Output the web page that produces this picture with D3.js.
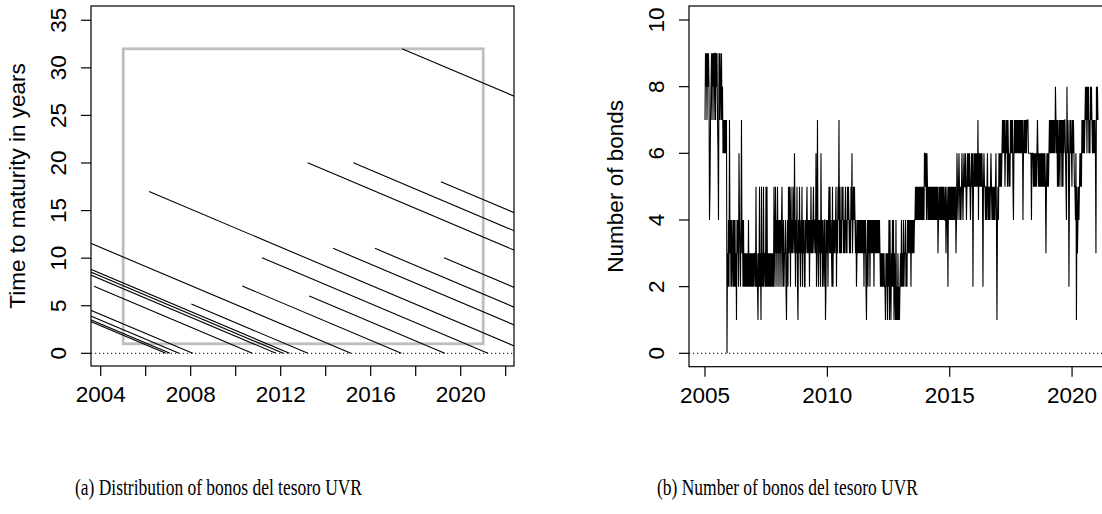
<!DOCTYPE html>
<html>
<head>
<meta charset="utf-8">
<script src="https://cdn.jsdelivr.net/npm/d3@7"></script>
<style>
  body { margin: 0; background: #fff; }
  svg { display: block; }
  .tick-label, .axis-title { font-family: "Liberation Sans", Arial, Helvetica, sans-serif; font-size: 22.5px; fill: #000; }
  .caption { font-family: "Liberation Serif", "Times New Roman", serif; font-size: 24px; fill: #000; }
</style>
</head>
<body>
<div id="figure"></div>
<script>

// ---- data ----

// panel (a): each bond drawn from (issue, time to maturity) down to (maturity, 0)
var issueYears    = [2003.0, 2003.0, 2003.0, 2003.0, 2003.7, 2003.0, 2003.0, 2003.0, 2003.0,
                     2006.15, 2008.03, 2010.29, 2011.17, 2013.2, 2013.27, 2014.33, 2015.23,
                     2016.19, 2017.39, 2019.12, 2019.26];
var maturityYears = [2015.12, 2012.39, 2012.11, 2011.79, 2010.74, 2008.09, 2007.48, 2007.08, 2006.89,
                     2023.15, 2013.21, 2017.36, 2021.21, 2033.22, 2019.29, 2025.36, 2035.25,
                     2027.22, 2049.4, 2037.15, 2029.3];
var windowYears    = [2005, 2021];
var windowMaturity = [1, 32];
var maturityTicks  = [0, 5, 10, 15, 20, 25, 30, 35];
var yearTicksA     = [2004, 2006, 2008, 2010, 2012, 2014, 2016, 2018, 2020, 2022];
var yearLabelsA    = [2004, 2008, 2012, 2016, 2020];

// panel (b): number of bonds, one digit per observation
var countStart = 2005.0;
var countStep  = 0.02043;   // years between observations
var countDigits =
  "79897989845789798979" + "97989764979879786767" + "67670324273424234242" + "42314342643247342423" +
  "23232324232323232323" + "32523213252315232523" + "32525232323232323253" + "25342534243424532423" +
  "34213425354253435436" + "42435214353243524342" + "24345343424353434534" + "43624732434263424324" +
  "41243424535343252434" + "34524354735343545343" + "45343545434354634545" + "43423434343434343424" +
  "34213424342434343424" + "34343434343232323232" + "21323132414213242413" + "21412131212324232423" +
  "34232434343424343434" + "45454545454545454546" + "65646545454545454545" + "45454534545454545454" +
  "45345425454545454545" + "45346545654545654565" + "56545656565456562565" + "65656574656565652565" +
  "54545645454565454545" + "45641454656565676767" + "56767576565767675467" + "67676767676767674676" +
  "76767776666664666565" + "65656765656565656565" + "65356565676767676767" + "68767575675767575767" +
  "76548676257676576765" + "54615345456565767676" + "78786878676878767676" + "7638787";
var countValues = countDigits.split("").map(Number);
var countTicks  = [0, 2, 4, 6, 8, 10];
var yearTicksB  = [2005, 2010, 2015, 2020];

var captions = ["(a) Distribution of bonos del tesoro UVR", "(b) Number of bonos del tesoro UVR"];


var svg = d3.select("#figure").append("svg")
    .attr("width", 1102)
    .attr("height", 514);

svg.append("rect").attr("width", 1102).attr("height", 514).attr("fill", "#fff");


/**
 * Draws an R-style frame: box, ticks on left and bottom, rotated y labels
 */
function drawFrame(g, box, x, y, xTicks, xLabels, yTicks, yTitle, clipId) {

    g.append("clipPath").attr("id", clipId)
      .append("rect")
        .attr("x", box.left).attr("y", box.top)
        .attr("width", box.right - box.left).attr("height", box.bottom - box.top);

    g.append("rect")
        .attr("x", box.left).attr("y", box.top)
        .attr("width", box.right - box.left).attr("height", box.bottom - box.top)
        .attr("fill", "none").attr("stroke", "#000").attr("stroke-width", 1.2);

    // x ticks
    g.selectAll(".xtick").data(xTicks).enter().append("line")
        .attr("x1", function(d){ return x(d); }).attr("x2", function(d){ return x(d); })
        .attr("y1", box.bottom).attr("y2", box.bottom + 10)
        .attr("stroke", "#000").attr("stroke-width", 1.2);

    g.selectAll(".xlab").data(xLabels).enter().append("text")
        .attr("class", "tick-label")
        .attr("x", function(d){ return x(d); })
        .attr("y", box.bottom + 36)
        .attr("text-anchor", "middle")
        .text(function(d){ return d; });

    // y ticks
    g.selectAll(".ytick").data(yTicks).enter().append("line")
        .attr("x1", box.left - 10).attr("x2", box.left)
        .attr("y1", function(d){ return y(d); }).attr("y2", function(d){ return y(d); })
        .attr("stroke", "#000").attr("stroke-width", 1.2);

    g.selectAll(".ylab").data(yTicks).enter().append("text")
        .attr("class", "tick-label")
        .attr("text-anchor", "middle")
        .attr("transform", function(d){ return "translate(" + (box.left - 25.5) + "," + y(d) + ") rotate(-90)"; })
        .text(function(d){ return d; });

    g.append("text")
        .attr("class", "axis-title")
        .attr("text-anchor", "middle")
        .attr("transform", "translate(" + (box.left - 66) + "," + ((box.top + box.bottom) / 2) + ") rotate(-90)")
        .text(yTitle);

    // dotted zero line
    g.append("line")
        .attr("clip-path", "url(#" + clipId + ")")
        .attr("x1", box.left).attr("x2", box.right)
        .attr("y1", y(0)).attr("y2", y(0))
        .attr("stroke", "#000").attr("stroke-width", 1)
        .attr("stroke-dasharray", "1.2,2.8");
}


// ---------- panel (a) ----------
var boxA = {left: 91, right: 514, top: 6, bottom: 366};
var xA = d3.scaleLinear().domain([2003.569, 2022.369]).range([boxA.left, boxA.right]);
var yA = d3.scaleLinear().domain([-1.334, 36.5]).range([boxA.bottom, boxA.top]);
var gA = svg.append("g");

drawFrame(gA, boxA, xA, yA, yearTicksA, yearLabelsA, maturityTicks, "Time to maturity in years", "clipA");

gA.append("rect")
    .attr("clip-path", "url(#clipA)")
    .attr("x", xA(windowYears[0])).attr("y", yA(windowMaturity[1]))
    .attr("width", xA(windowYears[1]) - xA(windowYears[0]))
    .attr("height", yA(windowMaturity[0]) - yA(windowMaturity[1]))
    .attr("fill", "none").attr("stroke", "#bebebe").attr("stroke-width", 2.8);

var bonds = issueYears.map(function(d, i){ return {issue: d, maturity: maturityYears[i]}; });

gA.append("g").attr("clip-path", "url(#clipA)")
  .selectAll("line").data(bonds).enter().append("line")
    .attr("x1", function(d){ return xA(d.issue); })
    .attr("y1", function(d){ return yA(d.maturity - d.issue); })
    .attr("x2", function(d){ return xA(d.maturity); })
    .attr("y2", yA(0))
    .attr("stroke", "#000").attr("stroke-width", 1.1);


// ---------- panel (b) ----------
var boxB = {left: 689, right: 1115, top: 6, bottom: 366.7};
var xB = d3.scaleLinear().domain([2004.346, 2021.755]).range([boxB.left, boxB.right]);
var yB = d3.scaleLinear().domain([-0.402, 10.42]).range([boxB.bottom, boxB.top]);
var gB = svg.append("g");

drawFrame(gB, boxB, xB, yB, yearTicksB, yearTicksB, countTicks, "Number of bonds", "clipB");

var countLine = d3.line()
    .x(function(d, i){ return xB(countStart + i * countStep); })
    .y(function(d){ return yB(d); });

gB.append("path")
    .datum(countValues)
    .attr("clip-path", "url(#clipB)")
    .attr("d", countLine)
    .attr("fill", "none").attr("stroke", "#000").attr("stroke-width", 1.1);


// ---------- captions ----------
svg.append("text").attr("class", "caption")
    .attr("x", 75).attr("y", 495)
    .attr("textLength", 287).attr("lengthAdjust", "spacingAndGlyphs")
    .text(captions[0]);

svg.append("text").attr("class", "caption")
    .attr("x", 657).attr("y", 495)
    .attr("textLength", 261).attr("lengthAdjust", "spacingAndGlyphs")
    .text(captions[1]);

</script>
</body>
</html>
